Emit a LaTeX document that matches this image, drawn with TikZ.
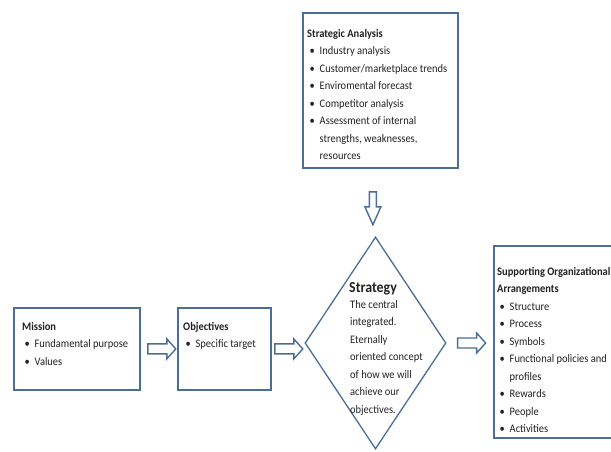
\documentclass[tikz,border=0pt]{standalone}
\usepackage{fontspec}
\setmainfont{Carlito}[FakeStretch=0.91]
\usetikzlibrary{shapes.geometric,calc}
\definecolor{bordercol}{HTML}{4A6E96}
\definecolor{txtcol}{HTML}{222222}
\newcommand\bl[1]{\hspace*{2.5pt}\makebox[10pt][l]{\textbullet}#1}
\newcommand\cont[1]{\hspace*{12.5pt}#1}
\newcommand\fst{\rule{0pt}{10pt}}
\begin{document}
\begin{tikzpicture}[x=1pt,y=-1pt,
  box/.style={draw=bordercol, line width=1.8pt, fill=white, inner sep=0, anchor=north west},
  txt/.style={anchor=north west, inner sep=0, align=left, font=\fontsize{11.5}{17.5}\selectfont, text=txtcol},
  barrow/.style={draw=bordercol, line width=1.4pt, fill=white, line join=miter}]
\useasboundingbox (0,0) rectangle (611,451);
\clip (0,0) rectangle (611,451);

% boxes
\node[box, minimum width=126, minimum height=82] (mission) at (13,307) {};
\node[box, minimum width=93, minimum height=82] (objectives) at (177,307) {};
\node[box, minimum width=155, minimum height=155] (analysis) at (302,12) {};
\node[box, minimum width=130, minimum height=192] (soa) at (493,245) {};
\node[diamond, draw=bordercol, line width=1.3pt, inner sep=0, minimum width=141, minimum height=212] (strategy) at (375.5,343) {};

% block arrows
\coordinate (a1) at ($(mission.east)+(7,0)$);
\coordinate (a2) at ($(objectives.east)+(3,0)$);
\coordinate (a3) at ($(strategy.east)+(11,0)$);
\coordinate (a4) at ($(analysis.south)+(-7.5,23)$);
\foreach \p in {a1,a2,a3}{
  \draw[barrow, shift={(\p)}] (0,-5) -- (19,-5) -- (19,-10) -- (28,0) -- (19,10) -- (19,5) -- (0,5) -- cycle;
}
\draw[barrow, shift={(a4)}] (-3.5,0) -- (-3.5,15) -- (-8,15) -- (0,33) -- (8,15) -- (3.5,15) -- (3.5,0) -- cycle;

% texts
\node[txt] (missiontxt) at (22,320) {\fst\textbf{Mission}\\\bl{Fundamental purpose}\\\bl{Values}};
\node[txt] (objtxt) at (183,320) {\fst\textbf{Objectives}\\\bl{Specific target}};
\node[txt] (analysistxt) at (307,27) {\fst\textbf{Strategic Analysis}\\
  \bl{Industry analysis}\\
  \bl{Customer/marketplace trends}\\
  \bl{Enviromental forecast}\\
  \bl{Competitor analysis}\\
  \bl{Assessment of internal}\\
  \cont{strengths, weaknesses,}\\
  \cont{resources}};
\node[txt] (soatxt) at (497,265) {\fst\textbf{Supporting Organizational}\\
  \textbf{Arrangements}\\
  \bl{Structure}\\
  \bl{Process}\\
  \bl{Symbols}\\
  \bl{Functional policies and}\\
  \cont{profiles}\\
  \bl{Rewards}\\
  \bl{People}\\
  \bl{Activities}};
\node[anchor=base west, inner sep=0, text=txtcol, font=\fontsize{15.3}{18}\selectfont\bfseries] (strategytitle) at (349,292) {Strategy};
\node[txt] (strategytxt) at (350,298) {\fst The central\\integrated.\\Eternally\\oriented concept\\of how we will\\achieve our\\objectives.};
\end{tikzpicture}
\end{document}
